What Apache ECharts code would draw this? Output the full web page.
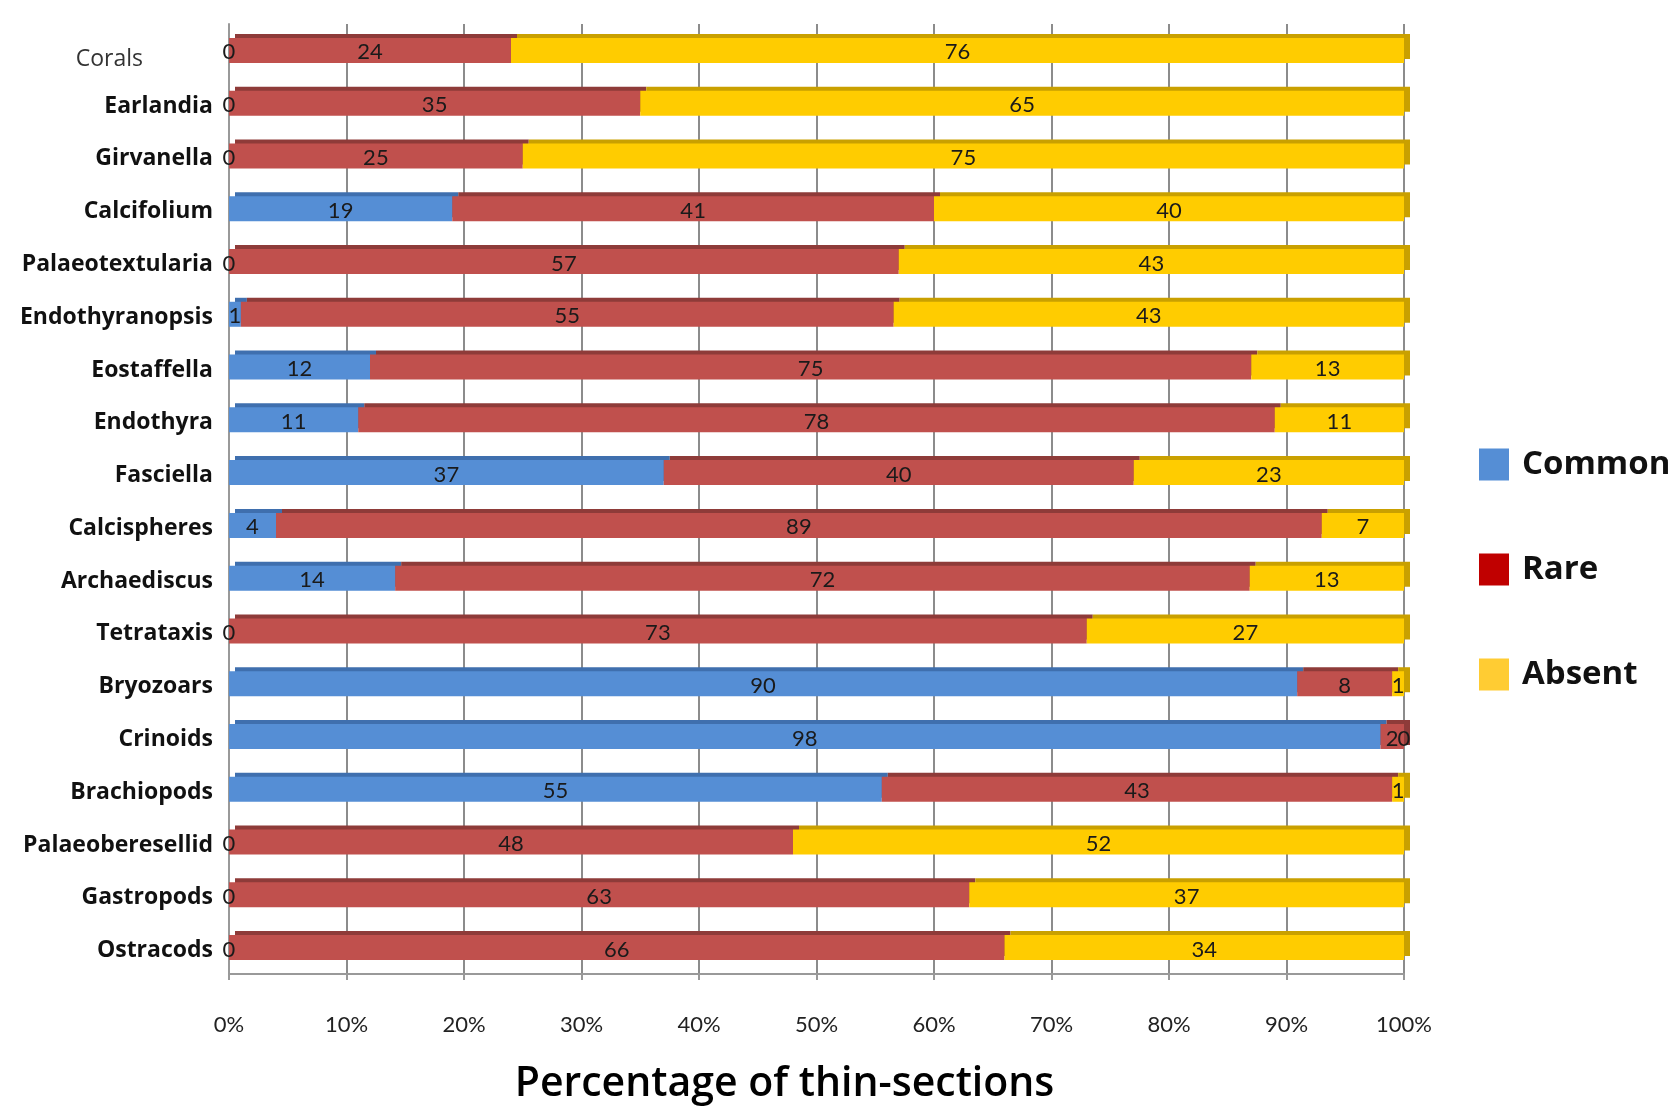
<!DOCTYPE html>
<html>
<head>
<meta charset="utf-8">
<script src="https://cdn.jsdelivr.net/npm/echarts@6/dist/echarts.min.js"></script>
<style>
  html, body { margin: 0; padding: 0; background: #fff; }
  #chart { width: 1677px; height: 1110px; }
</style>
</head>
<body>
<div id="chart"></div>
<script>
// categories, top to bottom
var taxa = ['Corals', 'Earlandia', 'Girvanella', 'Calcifolium', 'Palaeotextularia', 'Endothyranopsis',
  'Eostaffella', 'Endothyra', 'Fasciella', 'Calcispheres', 'Archaediscus', 'Tetrataxis',
  'Bryozoars', 'Crinoids', 'Brachiopods', 'Palaeoberesellid', 'Gastropods', 'Ostracods'];

// raw counts as labelled on the bars
var common = [0, 0, 0, 19, 0, 1, 12, 11, 37, 4, 14, 0, 90, 98, 55, 0, 0, 0];
var rare   = [24, 35, 25, 41, 57, 55, 75, 78, 40, 89, 72, 73, 8, 2, 43, 48, 63, 66];
var absent = [76, 65, 75, 40, 43, 43, 13, 11, 23, 7, 13, 27, 1, 0, 1, 52, 37, 34];

var xTicks = ['0%', '10%', '20%', '30%', '40%', '50%', '60%', '70%', '80%', '90%', '100%'];

// 100% stacked: share of each row total, raw value kept for the label
function toShare(arr) {
  return arr.map(function (v, i) {
    var total = common[i] + rare[i] + absent[i];
    return { value: v / total * 100, raw: v };
  });
}

var labelStyle = {
  show: true,
  position: 'inside',
  offset: [0, 2],
  fontFamily: 'Lato',
  fontSize: 22,
  color: '#1a1a1a',
  formatter: function (p) { return p.data.raw; }
};

function barSeries(name, arr, color, top) {
  return {
    name: name,
    type: 'bar',
    stack: 'all',
    barWidth: 25,
    data: toShare(arr),
    label: labelStyle,
    itemStyle: {
      color: color,
      shadowColor: top,
      shadowBlur: 0,
      shadowOffsetX: 6,
      shadowOffsetY: -4
    },
    emphasis: { disabled: true }
  };
}

var chart = echarts.init(document.getElementById('chart'));
chart.setOption({
  backgroundColor: '#ffffff',
  animation: false,
  textStyle: { fontFamily: 'Lato' },
  grid: { left: 229, right: 273, top: 24, bottom: 125 },
  legend: {
    orient: 'vertical',
    left: 1474,
    top: 443,
    icon: 'rect',
    itemWidth: 30,
    itemHeight: 32,
    itemGap: 72,
    textStyle: { fontFamily: 'Open Sans', fontSize: 33, fontWeight: 'bold', color: '#111', padding: [0, 0, 0, 8] },
    data: [
      { name: 'Common', itemStyle: { color: '#558ED5' } },
      { name: 'Rare', itemStyle: { color: '#C00000' } },
      { name: 'Absent', itemStyle: { color: '#FFCC33' } }
    ]
  },
  xAxis: {
    type: 'value',
    min: 0,
    max: 100,
    interval: 10,
    name: 'Percentage of thin-sections',
    nameLocation: 'middle',
    nameGap: 90,
    nameTextStyle: { fontFamily: 'Open Sans', fontSize: 41, fontWeight: 600, color: '#000', padding: [0, 64, 0, 0] },
    axisLine: { show: true, lineStyle: { color: '#999', width: 2 } },
    axisTick: { show: true, length: 6, lineStyle: { color: '#999', width: 2 } },
    axisLabel: {
      margin: 40,
      fontFamily: 'Lato',
      fontSize: 22,
      color: '#222',
      formatter: function (v) { return xTicks[Math.round(v / 10)]; }
    },
    splitLine: { show: true, lineStyle: { color: '#8c8c8c', width: 2 } }
  },
  yAxis: {
    type: 'category',
    inverse: true,
    data: taxa,
    axisLine: { show: true, lineStyle: { color: '#999', width: 2 } },
    axisTick: { show: false },
    axisLabel: {
      margin: 16,
      formatter: function (v) { return v === 'Corals' ? '{n|' + v + '}' : '{b|' + v + '}'; },
      rich: {
        n: { fontFamily: 'Open Sans', fontSize: 23, color: '#333', padding: [18, 70, 0, 0] },
        b: { fontFamily: 'Open Sans', fontSize: 23, fontWeight: 'bold', color: '#111', padding: [6, 0, 0, 0] }
      }
    }
  },
  series: [
    barSeries('Common', common, '#558ED5', '#3F6FAE'),
    barSeries('Rare', rare, '#C0504D', '#8E3B39'),
    barSeries('Absent', absent, '#FFCC00', '#C9A000')
  ]
});
</script>
</body>
</html>
